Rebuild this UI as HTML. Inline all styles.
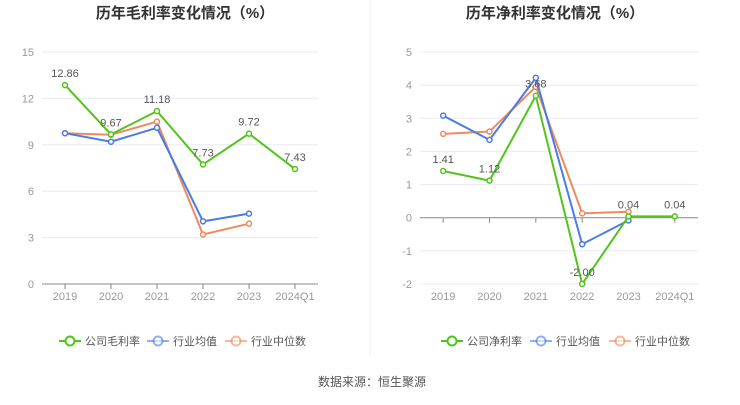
<!DOCTYPE html>
<html><head><meta charset="utf-8"><style>
body{margin:0;background:#fff;font-family:"Liberation Sans","Noto Sans CJK SC",sans-serif;}
svg text{font-family:"Liberation Sans","Noto Sans CJK SC",sans-serif;}
</style></head><body>
<svg id="s" width="740" height="400">
<line x1="370" y1="0" x2="370" y2="355" stroke="#f0f0f0"/>
<text x="185" y="18" text-anchor="middle" font-size="15" font-weight="bold" fill="#333">历年毛利率变化情况（%）</text>
<text x="555" y="18" text-anchor="middle" font-size="15" font-weight="bold" fill="#333">历年净利率变化情况（%）</text>
<text x="372" y="386" text-anchor="middle" font-size="12" fill="#555">数据来源：恒生聚源</text>
</svg>
<script>
const categories=["2019","2020","2021","2022","2023","2024Q1"];
const grossCompany=[12.86,9.67,11.18,7.73,9.72,7.43];
const grossAvg=[9.75,9.2,10.1,4.05,4.55,null];
const grossMedian=[9.75,9.65,10.5,3.2,3.9,null];
const grossTicks=[0,3,6,9,12,15];
const netCompany=[1.41,1.12,3.68,-2.00,0.04,0.04];
const netAvg=[3.08,2.35,4.22,-0.8,-0.08,null];
const netMedian=[2.53,2.6,3.95,0.13,0.18,null];
const netTicks=[-2,-1,0,1,2,3,4,5];
const NS="http://www.w3.org/2000/svg";
const svg=document.getElementById('s');
function mk(t,a,p){const e=document.createElementNS(NS,t);for(const k in a)e.setAttribute(k,a[k]);(p||svg).appendChild(e);return e;}
const COLORS={c:"#52c41a",a:"#4a7be8",m:"#f08a5d"};
function chart(prefix,left,right,top,bottom,ticks,series,names){
  const min=ticks[0],max=ticks[ticks.length-1];
  const y=v=>bottom-(v-min)/(max-min)*(bottom-top);
  const bw=(right-left)/categories.length;
  const x=i=>left+bw*(i+0.5);
  const g=mk('g',{});
  
  
  ticks.forEach(t=>{
    const l=mk('line',{x1:left,x2:right,y1:y(t),y2:y(t),stroke:t===0?"#888":"#e8ebf2"},g);
    
    
    const tx=mk('text',{x:left-8,y:y(t)+4,'text-anchor':'end','font-size':11,fill:"#999"},g);
    tx.textContent=t;
    
    
  });
  const zy=y(Math.max(0,min));
  categories.forEach((c,i)=>{
    const tk=mk('line',{x1:x(i),x2:x(i),y1:zy,y2:zy+5,stroke:"#888"},g);
    
    
    const tx=mk('text',{x:x(i),y:bottom+16,'text-anchor':'middle','font-size':11,fill:"#999"},g);
    tx.textContent=c;
    
    
  });
  [["m",series[2]],["a",series[1]],["c",series[0]]].forEach(([k,data])=>{
    let d="";data.forEach((v,i)=>{if(v!==null)d+=(d?"L":"M")+x(i)+","+y(v);});
    const p=mk('path',{d:d,fill:"none",stroke:COLORS[k],'stroke-width':2},g);
    
    
    data.forEach((v,i)=>{if(v===null)return;
      const c=mk('circle',{cx:x(i),cy:y(v),r:2.5,fill:"#fff",stroke:COLORS[k],'stroke-width':1.5},g);
      
      
      if(k==="c"){
        const lb=mk('text',{x:x(i),y:y(v)-8,'text-anchor':'middle','font-size':11,fill:"#555"},g);
        lb.textContent=v.toFixed(2);
        
        
      }
    });
  });
}
chart('gross',42,318,52,284,grossTicks,[grossCompany,grossAvg,grossMedian],{c:'company',a:'avg',m:'median'});
chart('net',420,698,52,284,netTicks,[netCompany,netAvg,netMedian],{c:'company',a:'avg',m:'median'});
function legend(x0,label,k,name){
  const g=mk('g',{});
  
  
  mk('line',{x1:x0,x2:x0+22,y1:341,y2:341,stroke:COLORS[k],'stroke-width':2,opacity:k==='c'?1:0.6},g);
  mk('circle',{cx:x0+11,cy:341,r:4.5,fill:"#fff",stroke:COLORS[k],'stroke-width':2,opacity:k==='c'?1:0.6},g);
  const t=mk('text',{x:x0+26,y:345,'font-size':11,fill:"#555"},g);
  t.textContent=label;
}
legend(59,'公司毛利率','c','legend-gross-company');
legend(147,'行业均值','a','legend-gross-avg');
legend(225,'行业中位数','m','legend-gross-median');
legend(441,'公司净利率','c','legend-net-company');
legend(530,'行业均值','a','legend-net-avg');
legend(609,'行业中位数','m','legend-net-median');
</script>
</body></html>
